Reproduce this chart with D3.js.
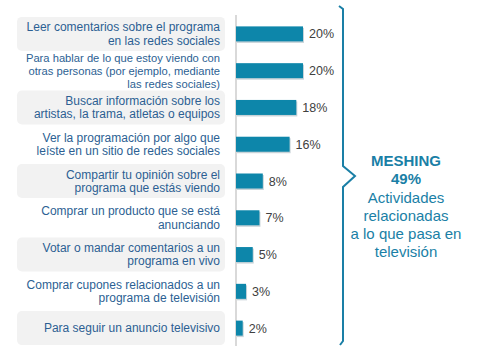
<!DOCTYPE html>
<html><head><meta charset="utf-8">
<script src="https://cdn.jsdelivr.net/npm/d3@7"></script>
<style>body{margin:0;background:#fff;}svg{display:block;}</style>
</head><body><svg id="c" width="478" height="357"></svg>
<script>
const categories = [
  ["Leer comentarios sobre el programa","en las redes sociales"],
  ["Para hablar de lo que estoy viendo con","otras personas (por ejemplo, mediante","las redes sociales)"],
  ["Buscar información sobre los","artistas, la trama, atletas o equipos"],
  ["Ver la programación por algo que","leíste en un sitio de redes sociales"],
  ["Compartir tu opinión sobre el","programa que estás viendo"],
  ["Comprar un producto que se está","anunciando"],
  ["Votar o mandar comentarios a un","programa en vivo"],
  ["Comprar cupones relacionados a un","programa de televisión"],
  ["Para seguir un anuncio televisivo"]
];
const values = [20, 20, 18, 16, 8, 7, 5, 3, 2];
const valueLabels = ["20%","20%","18%","16%","8%","7%","5%","3%","2%"];
const summaryTitle = ["MESHING","49%"];
const summaryText = ["Actividades","relacionadas","a lo que pasa en","televisión"];

const svg = d3.select("#c");
const font = "'Liberation Sans', Arial, sans-serif";
const x = d3.scaleLinear().domain([0, 20]).range([236, 303]);
const y = d3.scaleBand().domain(d3.range(categories.length)).range([15.5, 346.5]).paddingInner(0).paddingOuter(0);

// label boxes (alternating)
svg.selectAll("rect.box").data(categories.map((c,i)=>i).filter(i=>i%2===0)).enter()
  .append("rect").attr("class","box")
  .attr("x",17).attr("width",208)
  .attr("y",i=>y(i)+y.bandwidth()/2-17).attr("height",34)
  .attr("rx",5).attr("fill","#f2f2f2");

// labels
const labelColor = "#2c5f93";
categories.forEach((lines,i)=>{
  const cy = y(i)+y.bandwidth()/2;
  const three = lines.length > 2;
  const lh = three ? 12.9 : 13.4;
  const t = svg.append("text").attr("text-anchor","end").attr("font-family",font)
    .attr("font-size", three ? 11.2 : 12).attr("fill",labelColor);
  lines.forEach((l,j)=>{
    t.append("tspan").attr("x",220).attr("y", cy + (j-(lines.length-1)/2)*lh + 4.2).text(l);
  });
});

// axis line
svg.append("line").attr("x1",236).attr("x2",236).attr("y1",15).attr("y2",346)
  .attr("stroke","#d9d9d9").attr("stroke-width",2);

// bars
svg.selectAll("rect.shadow").data(values).enter().append("rect")
  .attr("x",x(0)+1).attr("y",(d,i)=>y(i)+y.bandwidth()/2-7.5+1.5)
  .attr("width",d=>x(d)-x(0)).attr("height",15).attr("fill","#c8d3d8");
svg.selectAll("rect.bar").data(values).enter().append("rect")
  .attr("x",x(0)).attr("y",(d,i)=>y(i)+y.bandwidth()/2-7.5)
  .attr("width",d=>x(d)-x(0)).attr("height",15).attr("fill","#0d86aa");

// value labels
svg.selectAll("text.val").data(values).enter().append("text")
  .attr("x",d=>x(d)+6).attr("y",(d,i)=>y(i)+y.bandwidth()/2+4.5)
  .attr("font-family",font).attr("font-size",12.5).attr("fill","#404040")
  .text((d,i)=>valueLabels[i]);

// brace
const bc = "#1a7fa6";
svg.append("path").attr("d","M339,6 L343,9 L343,166 L355,176 L343,187 L343,341 L340,345")
  .attr("fill","none").attr("stroke",bc).attr("stroke-width",2);

// summary
summaryTitle.forEach((s,j)=>{
  svg.append("text").attr("x",406).attr("y",165.5+j*18.5).attr("text-anchor","middle")
    .attr("font-family",font).attr("font-size",15).attr("font-weight","bold").attr("fill",bc).text(s);
});
summaryText.forEach((s,j)=>{
  svg.append("text").attr("x",406).attr("y",202.5+j*18.3).attr("text-anchor","middle")
    .attr("font-family",font).attr("font-size",15).attr("fill",bc).text(s);
});
</script></body></html>
